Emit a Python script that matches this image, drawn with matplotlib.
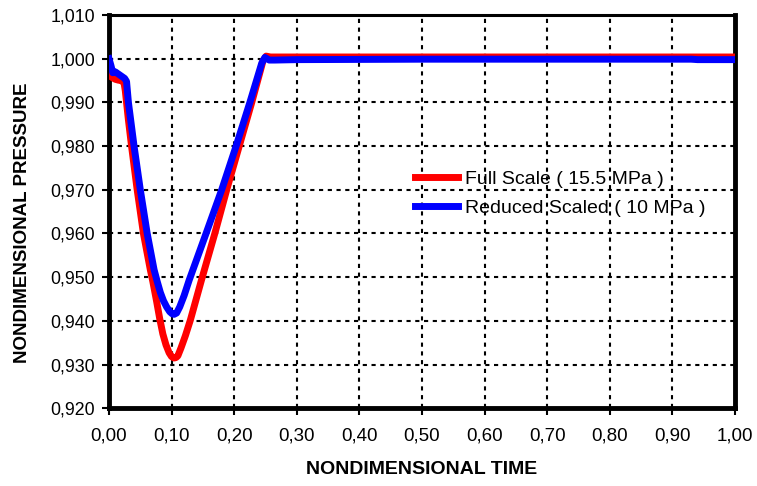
import matplotlib
matplotlib.use("Agg")
import matplotlib.pyplot as plt
import numpy as np

plt.rcParams['font.family'] = ['Liberation Sans', 'DejaVu Sans']

# Full Scale (15.5 MPa)
full_t = [0.000, 0.005, 0.010, 0.015, 0.020, 0.024, 0.026, 0.031, 0.036, 0.045, 0.055,
          0.066, 0.070, 0.076, 0.081, 0.086, 0.091, 0.096, 0.100, 0.104, 0.107,
          0.110, 0.115, 0.122, 0.130, 0.148, 0.169, 0.188, 0.208, 0.228, 0.246,
          0.251, 0.258, 0.300, 0.500, 0.700, 0.900, 1.000]
full_p = [0.9962, 0.9957, 0.9953, 0.9951, 0.9950, 0.9945, 0.9927, 0.9860, 0.9800, 0.9700, 0.9600,
          0.9517, 0.9490, 0.9445, 0.9405, 0.9370, 0.9345, 0.9327, 0.9318, 0.9315, 0.9316,
          0.9320, 0.9338, 0.9366, 0.9402, 0.9495, 0.9600, 0.9700, 0.9800, 0.9900, 0.9995,
          1.0006, 1.0004, 1.0004, 1.0004, 1.0004, 1.0004, 1.0004]

# Reduced Scaled (10 MPa)
red_t = [0.000, 0.003, 0.006, 0.010, 0.015, 0.020, 0.025, 0.028, 0.031, 0.040, 0.050,
         0.061, 0.072, 0.077, 0.082, 0.087, 0.092, 0.097, 0.101, 0.104, 0.108,
         0.113, 0.120, 0.128, 0.155, 0.180, 0.203, 0.225, 0.244, 0.249, 0.256,
         0.265, 0.300, 0.500, 0.700, 0.930, 0.940, 1.000]
red_p = [1.0000, 0.9985, 0.9968, 0.9970, 0.9965, 0.9960, 0.9955, 0.9948, 0.9900, 0.9800, 0.9700,
         0.9600, 0.9517, 0.9490, 0.9465, 0.9446, 0.9432, 0.9421, 0.9416, 0.9415, 0.9418,
         0.9432, 0.9458, 0.9493, 0.9600, 0.9700, 0.9800, 0.9900, 0.9990, 1.0003, 0.9997,
         0.9997, 0.9998, 0.9999, 0.9999, 0.9999, 0.9998, 0.9998]

x_ticks = [0.0, 0.1, 0.2, 0.3, 0.4, 0.5, 0.6, 0.7, 0.8, 0.9, 1.0]
y_ticks = [0.920, 0.930, 0.940, 0.950, 0.960, 0.970, 0.980, 0.990, 1.000, 1.010]

fig = plt.figure(figsize=(7.57, 4.86), dpi=100)
ax = fig.add_axes([0.144, 0.160, 0.827, 0.809])

ax.plot(full_t, full_p, color='#ff0000', lw=5, solid_joinstyle='round',
        label='Full Scale ( 15.5 MPa )', zorder=3)
ax.plot(red_t, red_p, color='#0000ff', lw=5, solid_joinstyle='round',
        label='Reduced Scaled ( 10 MPa )', zorder=4)

ax.set_xlim(0, 1.0)
ax.set_ylim(0.920, 1.010)
ax.set_xticks(x_ticks)
ax.set_yticks(y_ticks)
ax.set_xticklabels([f"{v:.2f}".replace('.', ',') for v in x_ticks], fontsize=13.5)
ax.set_yticklabels([f"{v:.3f}".replace('.', ',') for v in y_ticks], fontsize=12.8)

ax.grid(True, color='black', linestyle=(0, (2, 2.2)), linewidth=1.5, zorder=1)
ax.set_axisbelow(True)

for side in ['left', 'bottom', 'right']:
    ax.spines[side].set_linewidth(3.5)
ax.spines['top'].set_linewidth(2.2)
ax.tick_params(axis='both', direction='out', length=5, width=1.5, color='black')
ax.tick_params(axis='x', pad=9)
ax.tick_params(axis='y', pad=5)

ax.set_xlabel('NONDIMENSIONAL TIME', fontsize=14, fontweight='bold', labelpad=12)
ax.set_ylabel('NONDIMENSIONAL PRESSURE', fontsize=13.5, fontweight='bold', labelpad=14)
ax.yaxis.label.set_y(0.472)

leg = ax.legend(loc='center left', bbox_to_anchor=(0.489, 0.546), frameon=False,
                fontsize=14, handlelength=2.2, handletextpad=0.36, labelspacing=0.55,
                borderpad=0, borderaxespad=0)

fig.savefig('out.png', dpi=100)
